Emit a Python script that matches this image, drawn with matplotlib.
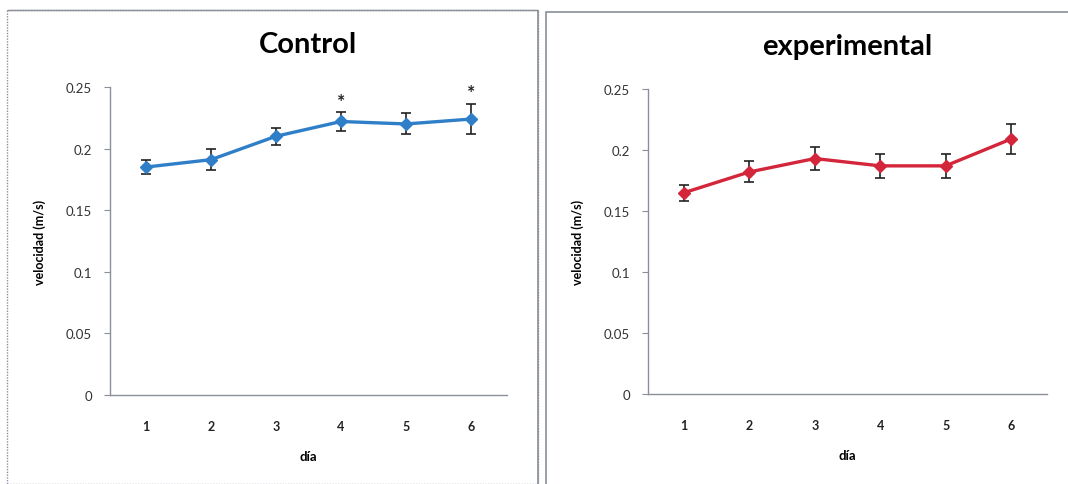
import matplotlib.pyplot as plt
from matplotlib.patches import Rectangle

dias = [1, 2, 3, 4, 5, 6]

control = [0.185, 0.191, 0.210, 0.222, 0.220, 0.224]
control_err = [0.0055, 0.0085, 0.007, 0.0075, 0.0085, 0.0125]
control_sig = [4, 6]

experimental = [0.165, 0.182, 0.193, 0.187, 0.187, 0.209]
experimental_err = [0.0064, 0.0086, 0.0097, 0.0098, 0.010, 0.012]

yticks = [0, 0.05, 0.1, 0.15, 0.2, 0.25]
ytick_labels = ["0", "0.05", "0.1", "0.15", "0.2", "0.25"]

plt.rcParams['font.family'] = ['Lato', 'DejaVu Sans']

fig = plt.figure(figsize=(10.68, 4.85), dpi=100)

# marcos de los paneles (pixeles -> fraccion de figura)
W, H = 1068.0, 485.0
fig.patches.append(Rectangle((7/W, 0), (538-7)/W, 1-11/H, transform=fig.transFigure,
                             fill=False, edgecolor="#8a8f99", lw=1.0, linestyle=(0, (1, 1))))
fig.patches.append(Rectangle((7/W, 1-11/H), (538-7)/W, 0.0, transform=fig.transFigure,
                             fill=False, edgecolor="#8a8f99", lw=1.0))
fig.patches.append(Rectangle((538/W, 0), 0, 1-11/H, transform=fig.transFigure,
                             fill=False, edgecolor="#8a8f99", lw=1.2))
fig.patches.append(Rectangle((546/W, -0.01), (1075-546)/W, 1-13/H+0.01, transform=fig.transFigure,
                             fill=False, edgecolor="#8a8f99", lw=1.2))

ax1 = fig.add_axes([110/W, 1-396/H, (507-110)/W, (396-88)/H])
ax2 = fig.add_axes([648/W, 1-395/H, (1047-648)/W, (395-90)/H])

def estilo(ax, titulo, ys, err, color):
    ax.errorbar(dias, ys, yerr=err, color=color, lw=2.4, marker="D", ms=6.5,
                mec=color, mfc=color, ecolor="#222222", elinewidth=1.2,
                capsize=3.5, capthick=1.2, zorder=3)
    ax.set_xlim(0.45, 6.55)
    ax.set_ylim(0, 0.25)
    ax.set_yticks(yticks)
    ax.set_yticklabels(ytick_labels)
    ax.set_xticks(dias)
    for s in ["top", "right"]:
        ax.spines[s].set_visible(False)
    for s in ["left", "bottom"]:
        ax.spines[s].set_color("#8a8f99")
        ax.spines[s].set_linewidth(1.0)
    ax.tick_params(axis="y", length=4, color="#8a8f99", labelsize=9.5,
                   labelcolor="#333333", pad=9)
    ax.tick_params(axis="x", length=0, labelsize=9, labelcolor="#222222", pad=18)
    for lab in ax.get_xticklabels():
        lab.set_fontweight("bold")
    ax.set_ylabel("velocidad (m/s)", fontsize=9, fontweight="bold", labelpad=14)
    ax.set_xlabel("día", fontsize=9.5, fontweight="bold", labelpad=13)
    ax.set_title(titulo, fontsize=21, fontweight="bold", pad=25)

estilo(ax1, "Control", control, control_err, "#2f7fc8")
estilo(ax2, "experimental", experimental, experimental_err, "#d3263a")

for d in control_sig:
    i = dias.index(d)
    ax1.text(d, control[i] + control_err[i] + 0.002, "*", ha="center", va="bottom",
             fontsize=14, fontweight="bold", color="#222222")

fig.savefig("out.png", dpi=100)
